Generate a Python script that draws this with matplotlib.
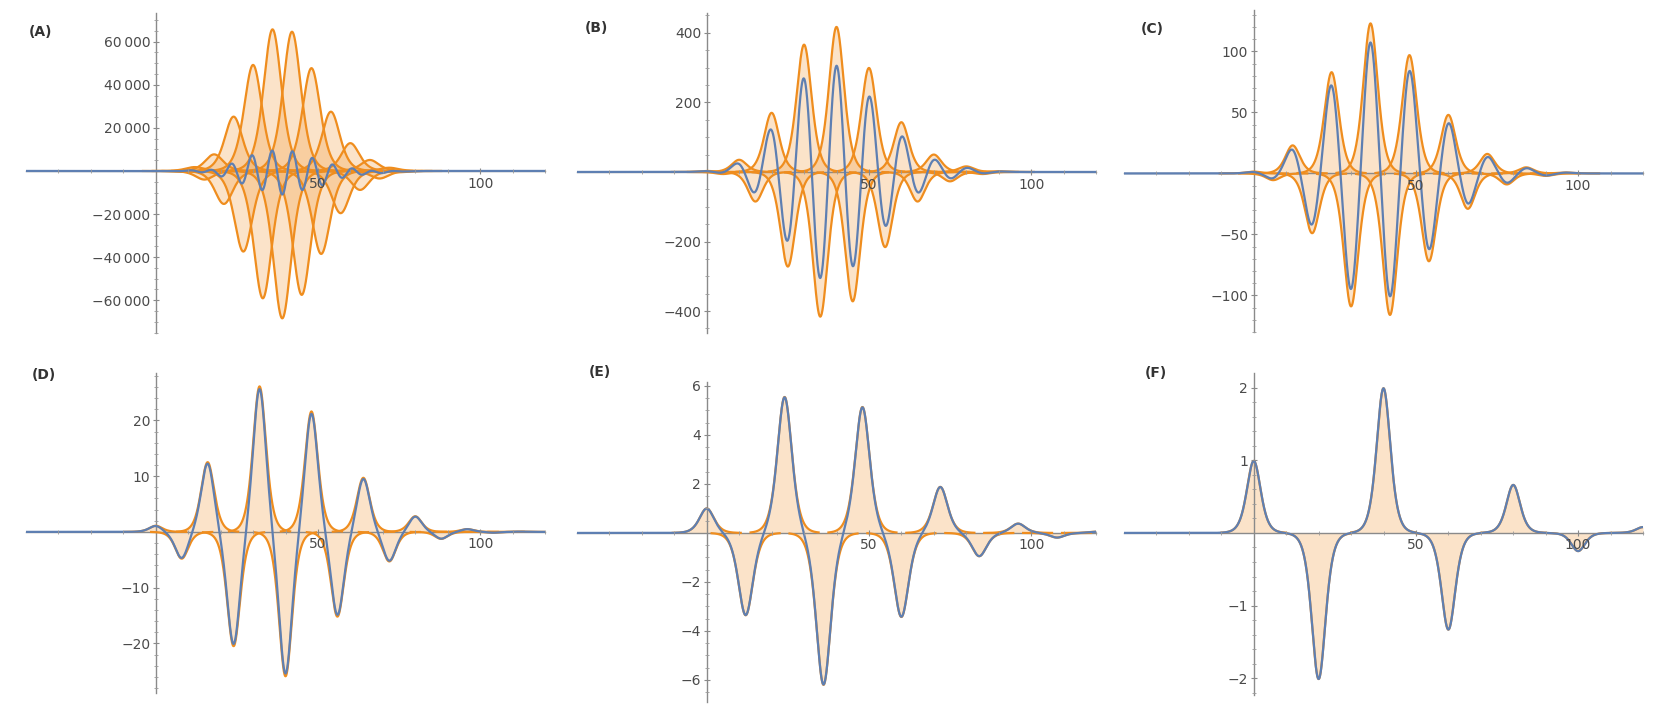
import numpy as np
import matplotlib.pyplot as plt

# pulse centres and signed heights (orange curves);
# the blue curve is their sum
a_centers = [9, 12, 15, 18, 21, 24, 27, 30, 33, 36, 39, 42, 45, 48, 51, 54, 57, 60, 63, 66, 69, 72, 75]
a_heights = [-500, 1800, -4000, 7700, -15300, 25200, -37400, 49200, -59100, 65700, -68400, 64600,
             -57500, 47700, -38500, 27500, -19600, 12900, -8800, 5100, -3500, 1500, -600]

b_centers = [0, 5, 10, 15, 20, 25, 30, 35, 40, 45, 50, 55, 60, 65, 70, 75, 80, 85, 90]
b_heights = [3, -6, 35, -85, 170, -272, 366, -416, 417, -372, 299, -216, 143, -85, 50, -27, 16, -6, 2]

c_centers = [0, 6, 12, 18, 24, 30, 36, 42, 48, 54, 60, 66, 72, 78, 84, 90, 96]
c_heights = [1.5, -5.5, 23, -49, 83, -109, 123, -116, 97, -72, 48, -29, 16, -9, 5, -2, 0.8]

d_centers = [0, 8, 16, 24, 32, 40, 48, 56, 64, 72, 80, 88, 96, 104, 112]
d_heights = [1.1, -4.8, 12.5, -20.5, 26.1, -25.9, 21.6, -15.2, 9.7, -5.3, 2.8, -1.25, 0.5, -0.15, 0.05]

e_centers = [0, 12, 24, 36, 48, 60, 72, 84, 96, 108, 120]
e_heights = [1.0, -3.36, 5.55, -6.2, 5.14, -3.43, 1.88, -0.95, 0.38, -0.19, 0.05]

f_centers = [0, 20, 40, 60, 80, 100, 120]
f_heights = [0.99, -2.01, 1.99, -1.33, 0.66, -0.25, 0.08]

# sech^2 pulse widths per panel
widths = [3.7, 3.1, 3.0, 2.7, 3.0, 2.85]

labels = ['(A)', '(B)', '(C)', '(D)', '(E)', '(F)']
y_major = [[-60000, -40000, -20000, 20000, 40000, 60000],
           [-400, -200, 200, 400],
           [-100, -50, 50, 100],
           [-20, -10, 10, 20],
           [-6, -4, -2, 2, 4, 6],
           [-2, -1, 1, 2]]
y_minor_step = [5000, 50, 10, 2, 0.5, 0.2]
y_lims = [(-75200, 73300), (-463, 457), (-130, 134), (-28.9, 28.5), (-6.9, 6.16), (-2.23, 2.2)]

# axes boxes in pixels (x0, x1, y_top, y_bottom)
boxes = [(26, 545, 13, 333), (577, 1096, 13, 333), (1124, 1643, 10, 332),
         (26, 545, 373, 693), (577, 1096, 382, 702), (1124, 1643, 373, 695)]
label_pos = [(41, 32), (596, 28), (1152, 29), (44, 375), (600, 372), (1156, 373)]

orange = '#EF8D1E'
blue = '#5E7FB2'
W, H = 1654, 709


def fmt(v):
    s = f"{abs(v):,}".replace(',', '\u2009') if isinstance(v, int) else f"{abs(v):g}"
    return ('\u2212' + s) if v < 0 else s


panels = [(a_centers, a_heights), (b_centers, b_heights), (c_centers, c_heights),
          (d_centers, d_heights), (e_centers, e_heights), (f_centers, f_heights)]

fig = plt.figure(figsize=(W / 100, H / 100), dpi=100)
x = np.linspace(-40, 120, 3000)

for i, (cs, hs) in enumerate(panels):
    x0, x1, yt, yb = boxes[i]
    ax = fig.add_axes([x0 / W, 1 - yb / H, (x1 - x0) / W, (yb - yt) / H])
    w = widths[i]
    total = np.zeros_like(x)
    for c, h in zip(cs, hs):
        y = h / np.cosh((x - c) / w) ** 2
        total += y
        m = np.abs(x - c) <= 3.5 * w
        ax.fill_between(x[m], 0, y[m], color=orange, alpha=0.24, lw=0, zorder=1)
        ax.plot(x[m], y[m], color=orange, lw=1.6, zorder=3)
    ax.plot(x, total, color=blue, lw=1.6, zorder=4)

    ax.set_xlim(-40, 120)
    ax.set_ylim(*y_lims[i])
    for side in ['top', 'right']:
        ax.spines[side].set_visible(False)
    ax.spines['left'].set_position(('data', 0))
    ax.spines['bottom'].set_position(('data', 0))
    for side in ['left', 'bottom']:
        ax.spines[side].set_color('#8a8a8a')
        ax.spines[side].set_linewidth(1.0)
        ax.spines[side].set_zorder(2.5)

    ax.set_xticks([50, 100])
    ax.set_xticklabels(['50', '100'])
    ax.set_xticks([v for v in range(-30, 121, 10) if v not in (0, 50, 100)], minor=True)
    ax.set_yticks(y_major[i])
    ax.set_yticklabels([fmt(v) for v in y_major[i]])
    lo, hi = y_lims[i]
    st = y_minor_step[i]
    minors = np.arange(np.ceil(lo / st) * st, hi, st)
    ax.set_yticks([v for v in minors if abs(v) > 1e-9], minor=True)
    ax.tick_params(which='major', length=4, width=0.8, color='#8a8a8a', direction='inout',
                   labelsize=10, labelcolor='#4a4a4a', pad=2)
    ax.tick_params(which='minor', length=2.5, width=0.6, color='#9a9a9a', direction='inout')
    ax.xaxis.set_zorder(5)
    ax.yaxis.set_zorder(5)
    ax.patch.set_visible(False)

    lx, ly = label_pos[i]
    fig.text(lx / W, 1 - ly / H, labels[i], ha='center', va='center', fontsize=10,
             fontweight='bold', color='#333333')

fig.savefig('out.png', dpi=100)
